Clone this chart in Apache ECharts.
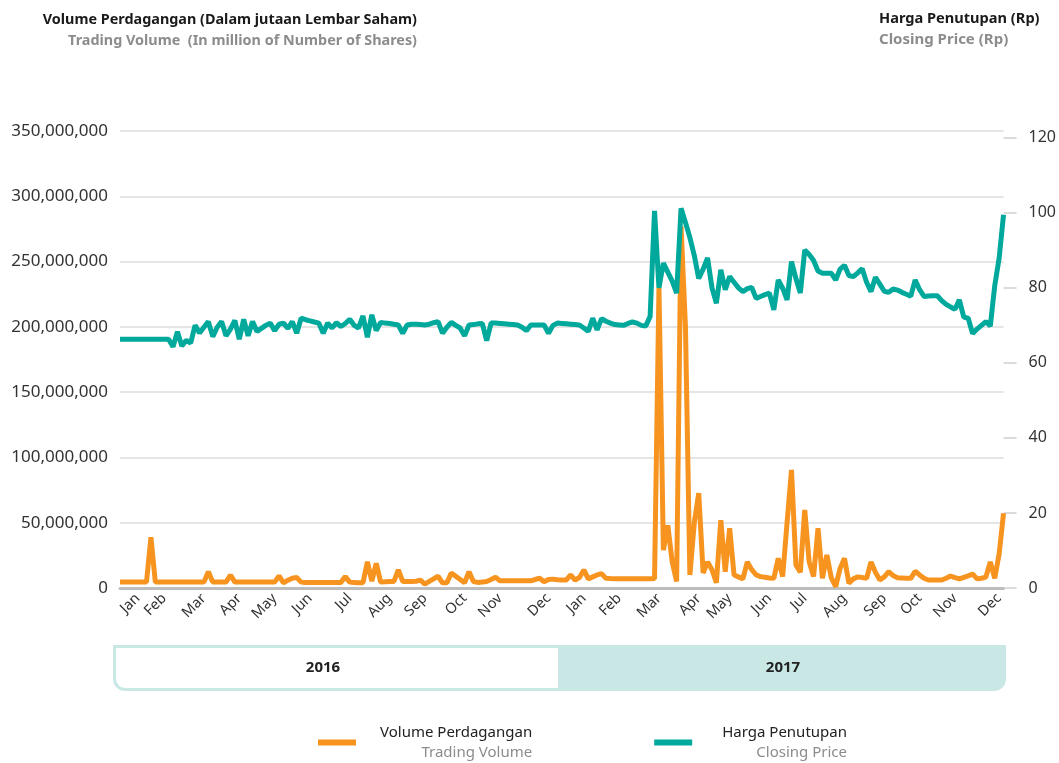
<!DOCTYPE html>
<html>
<head>
<meta charset="utf-8">
<script src="https://cdn.jsdelivr.net/npm/echarts@6/dist/echarts.min.js"></script>
<style>
  html, body { margin: 0; padding: 0; background: #fff; }
  #chart { width: 1059px; height: 763px; }
</style>
</head>
<body>
<div id="chart"></div>
<script>
// x positions are trading points; month names sit on the first point of each month
const monthLabels = ['Jan', 'Feb', 'Mar', 'Apr', 'May', 'Jun', 'Jul', 'Aug', 'Sep', 'Oct', 'Nov', 'Dec',
  'Jan', 'Feb', 'Mar', 'Apr', 'May', 'Jun', 'Jul', 'Aug', 'Sep', 'Oct', 'Nov', 'Dec']
const monthIdx = [4, 10, 19, 27, 35, 43, 52, 61, 69, 78, 86, 97,
  105, 113, 122, 131, 138, 147, 155, 164, 173, 181, 189, 199]
const years = ['2016', '2017']
const priceTicks = [0, 20, 40, 60, 80, 100, 120]

// trading volume, million shares
const volume = [
  4.5, 4.5, 4.5, 4.5, 4.5, 4.5, 4.5, 38.8, 4.5, 4.5,
  4.5, 4.5, 4.5, 4.5, 4.5, 4.5, 4.5, 4.5, 4.5, 4.5,
  12.5, 4.5, 4.5, 4.5, 4.5, 10, 4.5, 4.5, 4.5, 4.5,
  4.5, 4.5, 4.5, 4.5, 4.5, 4.5, 9.2, 4, 6, 7.5,
  8, 4.5, 4.3, 4.3, 4.3, 4.3, 4.3, 4.3, 4.3, 4.3,
  4.3, 8.7, 4.5, 4.3, 4, 4, 20, 5.3, 18.9, 4.5,
  4.7, 5, 5, 13.8, 5, 5, 5, 5.2, 6, 3,
  5, 7, 9, 4, 4, 11.5, 9, 6.5, 4, 12.5,
  5, 4.3, 4.6, 5, 6.5, 8.2, 5.5, 5.5, 5.5, 5.5,
  5.5, 5.5, 5.5, 5.5, 6.5, 7.5, 4.8, 6.5, 6.8, 6.3,
  6.2, 6.1, 10, 6.1, 8, 13.8, 7, 8.5, 10, 11,
  7.4, 7.2, 7.1, 7, 7, 7, 7, 7, 7, 7,
  7, 7.2, 230, 29, 48, 20, 5, 277, 200, 10,
  50, 72.6, 11.5, 20, 14, 4, 52, 12.5, 45.7, 10,
  8.5, 7, 20, 14, 10, 8.7, 8.2, 7.7, 7.4, 22.7,
  8.7, 50, 90.4, 17.6, 12, 59.7, 20, 8.7, 45.7, 7.4,
  25.3, 8, 1, 15, 22.7, 3.6, 7, 8.5, 8, 7.4,
  20, 12, 6.1, 8.5, 12.5, 9.5, 7.9, 7.7, 7.5, 7.4,
  12.8, 10, 7.5, 6.1, 6.1, 6.1, 6.1, 7.5, 9.2, 8,
  7, 8.2, 9.3, 10.7, 7, 7.5, 8.3, 20, 7.4, 26,
  57.2
]

// closing price, Rp
const price = [
  66.3, 66.3, 66.3, 66.3, 66.3, 66.3, 66.3, 66.3, 66.3, 66.3,
  66.3, 66.3, 64.3, 68.3, 64.5, 66, 65.3, 70, 68, 69.5,
  71, 67, 69.5, 71, 67.2, 69, 71.3, 66.3, 71.6, 67.2,
  71, 68.4, 69.2, 70, 70.6, 68.6, 70.3, 70.6, 69.2, 71,
  67.9, 71.9, 71.5, 71.2, 70.9, 70.6, 67.9, 70.6, 69.3, 70.7,
  69.7, 70.5, 71.6, 70, 69.3, 72.5, 66.8, 72.8, 68.6, 70.8,
  70.6, 70.5, 70.3, 70.1, 67.9, 70.1, 70.3, 70.3, 70.2, 70.1,
  70.3, 70.7, 71, 67.9, 69.5, 70.8, 70, 69.3, 67.2, 70.1,
  70.2, 70.4, 70.5, 65.9, 70.6, 70.6, 70.5, 70.4, 70.3, 70.2,
  70.1, 69.5, 68.6, 70.1, 70.1, 70.1, 70.1, 67.9, 70, 70.6,
  70.5, 70.4, 70.3, 70.2, 70.1, 69.3, 68.4, 71.9, 68.8, 71.8,
  71.1, 70.6, 70.2, 70.1, 70, 70.5, 70.9, 70.6, 70, 69.8,
  72.4, 100.5, 80, 86.6, 84.2, 81.8, 78.6, 101.2, 97.4, 93.4,
  88.6, 82.5, 85, 88, 80, 75.9, 84.8, 79.5, 83, 81.5,
  80, 79, 79.8, 80.1, 77.2, 77.7, 78.2, 78.6, 74.1, 82.1,
  79.9, 76.8, 87, 82.5, 78.6, 90.1, 88.9, 87.3, 84.5, 83.9,
  83.9, 83.9, 82.1, 85, 86, 83.3, 83, 84, 85.1, 81.5,
  79, 82.8, 81, 79.1, 78.8, 79.7, 79.4, 78.8, 78.3, 77.8,
  82.1, 79.5, 77.7, 77.8, 77.9, 77.9, 76.6, 75.6, 74.9, 74.3,
  76.8, 72.2, 71.9, 67.8, 69, 70, 71, 69.8, 80.5, 87.9,
  99.5
]

const ORANGE = '#f7941f'
const TEAL = '#00a99c'
const BAND = '#c9e8e5'
const FONT = 'Noto Sans'

const categories = volume.map((_, i) => String(i))
const labelAt = {}
monthIdx.forEach((idx, k) => { labelAt[idx] = monthLabels[k] })

const chart = echarts.init(document.getElementById('chart'), null, { renderer: 'canvas' })

const enNames = { 'Volume Perdagangan': 'Trading Volume', 'Harga Penutupan': 'Closing Price' }

// two-line legend text, English line right-aligned under the Indonesian one
function legendRich(gap) {
  return {
    a: { fontSize: 15, color: '#222', lineHeight: 20, padding: [0, 0, 0, gap], fontFamily: FONT },
    b: { fontSize: 15, color: '#8c8c8c', lineHeight: 20, align: 'right', fontFamily: FONT }
  }
}

chart.setOption({
  animation: false,
  textStyle: { fontFamily: FONT },
  title: [
    { text: 'Volume Perdagangan (Dalam jutaan Lembar Saham)', right: 642, top: 13, padding: 0,
      textStyle: { fontSize: 14.4, fontWeight: 'bold', color: '#1a1a1a', fontFamily: FONT } },
    { text: 'Trading Volume  (In million of Number of Shares)', right: 642, top: 34, padding: 0,
      textStyle: { fontSize: 14.4, fontWeight: 'bold', color: '#8c8c8c', fontFamily: FONT } },
    { text: 'Harga Penutupan (Rp)', left: 879, top: 11, padding: 0,
      textStyle: { fontSize: 14.6, fontWeight: 'bold', color: '#1a1a1a', fontFamily: FONT } },
    { text: 'Closing Price (Rp)', left: 879, top: 32, padding: 0,
      textStyle: { fontSize: 15, fontWeight: 'bold', color: '#8c8c8c', fontFamily: FONT } }
  ],
  legend: {
    left: 318, top: 725, padding: 0, selectedMode: false,
    icon: 'rect', itemWidth: 38, itemHeight: 6, itemGap: 122,
    data: [
      { name: 'Volume Perdagangan', itemStyle: { color: ORANGE }, textStyle: { rich: legendRich(19) } },
      { name: 'Harga Penutupan', itemStyle: { color: TEAL }, textStyle: { rich: legendRich(25) } }
    ],
    formatter: (name) => '{a|' + name + '}\n{b|' + enNames[name] + '}',
    textStyle: { rich: legendRich(19) }
  },
  grid: { left: 120, right: 54, top: 131, bottom: 175, containLabel: false },
  xAxis: {
    type: 'category', data: categories, boundaryGap: false,
    axisLine: { lineStyle: { color: '#bdbdbd', width: 3 } },
    axisTick: { show: false },
    axisLabel: {
      rotate: 45, margin: 8, color: '#333', fontSize: 14.5, fontFamily: FONT,
      interval: (idx) => labelAt[idx] !== undefined,
      formatter: (v, idx) => labelAt[idx] || ''
    },
    splitLine: { show: false }
  },
  yAxis: [
    {
      type: 'value', min: 0, max: 350, interval: 50,
      axisLine: { show: false }, axisTick: { show: false },
      axisLabel: { margin: 12, color: '#333', fontSize: 17, fontFamily: FONT,
        formatter: (v) => (v * 1000000).toLocaleString('en-US') },
      splitLine: { lineStyle: { color: '#dcdcdc', width: 1.5 } }
    },
    {
      type: 'value', min: 0, max: 121.8, position: 'right',
      axisLine: { show: false },
      axisTick: { show: true, length: 13, customValues: priceTicks, lineStyle: { color: '#cfcfcf', width: 1.5 } },
      axisLabel: { margin: 25, color: '#333', fontSize: 16, fontFamily: FONT, customValues: priceTicks },
      splitLine: { show: false }
    }
  ],
  series: [
    { name: 'Volume Perdagangan', type: 'line', yAxisIndex: 0, data: volume,
      symbol: 'none', lineStyle: { color: ORANGE, width: 5 }, itemStyle: { color: ORANGE } },
    { name: 'Harga Penutupan', type: 'line', yAxisIndex: 1, data: price,
      symbol: 'none', lineStyle: { color: TEAL, width: 5 }, itemStyle: { color: TEAL } }
  ],
  graphic: [
    { type: 'rect', shape: { x: 113, y: 645, width: 893, height: 46, r: [0, 0, 12, 12] }, style: { fill: BAND } },
    { type: 'rect', shape: { x: 116, y: 648, width: 442, height: 40, r: [0, 0, 0, 9] }, style: { fill: '#fff' } },
    { type: 'text', x: 323, y: 668, style: { text: years[0], fill: '#222', font: 'bold 15px "Noto Sans"', textAlign: 'center', textVerticalAlign: 'middle' } },
    { type: 'text', x: 783, y: 668, style: { text: years[1], fill: '#222', font: 'bold 15px "Noto Sans"', textAlign: 'center', textVerticalAlign: 'middle' } }
  ]
})
</script>
</body>
</html>
